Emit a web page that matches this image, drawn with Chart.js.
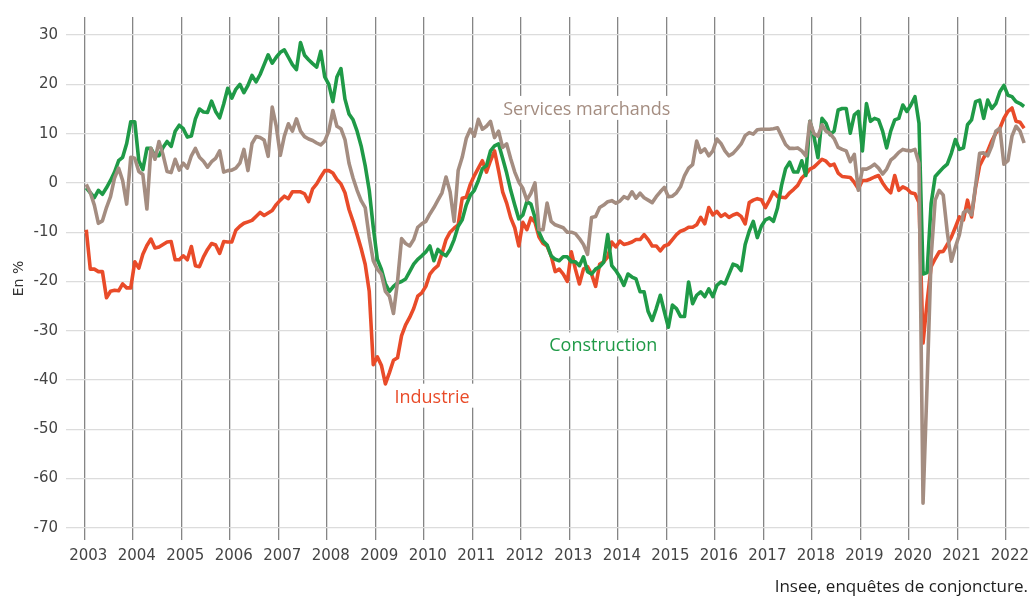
<!DOCTYPE html>
<html lang="fr">
<head>
<meta charset="utf-8">
<title>Soldes d'opinion - enquêtes de conjoncture</title>
<script src="https://cdn.jsdelivr.net/npm/chart.js@4.4.1/dist/chart.umd.min.js"></script>
<style>
  html, body { margin: 0; padding: 0; background: #fff; }
  #wrap { position: relative; width: 1032px; height: 600px; }
  #source {
    position: absolute; right: 4px; top: 576px;
    font: 17px "Open Sans", sans-serif; line-height: 20px; color: #1e1e1e;
  }
</style>
</head>
<body>
<div id="wrap">
  <canvas id="chart" width="1032" height="600"></canvas>
  <div id="source">Insee, enquêtes de conjoncture.</div>
</div>
<script>
// monthly values, January 2003 to May 2022 (one row per year)
const startYear = 2003;

const industrie = [
  -9.5, -17.5, -17.5, -18, -18, -23.3, -22, -21.8, -21.9, -20.5, -21.3, -21.3,
  -16, -17.3, -14.5, -12.7, -11.4, -13.2, -13, -12.5, -12, -11.9, -15.6, -15.6,
  -14.8, -15.6, -12.9, -16.8, -17, -15, -13.5, -12.3, -12.6, -14.3, -11.9, -12,
  -12, -9.6, -8.8, -8.2, -7.9, -7.6, -6.8, -6, -6.6, -6.1, -5.6, -4.4,
  -3.5, -2.7, -3.2, -1.8, -1.8, -1.8, -2.2, -3.8, -1.2, -0.2, 1.2, 2.5,
  2.5, 2, 0.7, -0.2, -2, -5.4, -7.8, -10.5, -13.3, -16.5, -22, -36.9,
  -35.3, -37, -40.8, -38.5, -36, -35.5, -31, -28.8, -27.3, -25.5, -23, -22.3,
  -21, -18.5, -17.5, -16.8, -14.3, -11.5, -10, -9.2, -8.5, -3.1, -2.9, -0.3,
  1.5, 3, 4.5, 2.2, 4.5, 6.5, 2.5, -1.8, -4.1, -7.1, -9.1, -12.8,
  -8, -9.5, -7.1, -8, -11, -12.3, -12.8, -14.8, -18, -17.5, -18.5, -20,
  -14, -17.5, -20.5, -17.5, -17, -18.5, -21, -16.5, -16, -15, -12, -13,
  -11.8, -12.5, -12.3, -12, -11.5, -11.5, -10.5, -11.5, -12.8, -12.8, -13.8, -12.8,
  -12.5, -11.5, -10.5, -9.8, -9.5, -9, -9, -8.5, -7, -8.3, -5, -6.5,
  -5.8, -6.8, -6.3, -7, -6.5, -6.2, -6.8, -8.3, -4, -3.5, -3.2, -3.4,
  -5, -3.5, -1.8, -2.8, -2.9, -3, -2, -1.3, -0.5, 1, 1.8, 2.8,
  3.2, 4, 4.8, 4.4, 3.5, 3.8, 2, 1.3, 1.2, 1.1, 0.1, -1.2,
  0.5, 0.5, 0.8, 1.2, 1.5, 0, -1.2, -2, 1.5, -1.5, -0.8, -1.2,
  -2, -2.2, -4, -32.5, -24.2, -17, -15.4, -14, -13.9, -12.5, -11, -9,
  -6.9, -7.5, -3.5, -6.9, -0.9, 3.5, 5.1, 6.5, 8.5, 10.1, 11.1, 13.1,
  14.5, 15.2, 12.5, 12.3, 11.1
];

const construction = [
  -1, -2, -3, -1.5, -2.3, -1, 0.5, 2.2, 4.5, 5.2, 8, 12.4,
  12.4, 4.5, 2.7, 7, 7, 5.5, 5.5, 7.2, 8.4, 7.4, 10.5, 11.7,
  11, 9.3, 9.5, 13, 15, 14.4, 14.3, 16.6, 14.5, 13.2, 16, 19.2,
  17.2, 19, 20, 18.3, 19.8, 21.8, 20.5, 22, 24, 26, 24.3, 25.5,
  26.5, 27, 25.5, 24, 23, 28.5, 25.9, 25, 24.2, 23.5, 26.7, 21.5,
  20, 16.5, 21.5, 23.2, 17, 14, 12.8, 10.5, 7.5, 3.5, -1.5, -9,
  -15.5, -17.5, -20.5, -22, -21, -20.3, -20, -19.5, -18, -16.5, -15.5, -14.8,
  -14, -12.8, -15.8, -13.5, -14.3, -14.8, -13.5, -11.5, -8.8, -7.5, -4.5, -2.5,
  -1.5, 0.5, 2.9, 3.5, 6.5, 7.5, 7.9, 5, 2, -1.5, -4.5, -7.3,
  -6.5, -3.8, -4.3, -7, -10, -11.8, -12.6, -14.8, -15.5, -15.8, -15, -15,
  -16, -16, -16.8, -15, -18, -18.5, -17.5, -17, -16.1, -10.5, -16.8, -17.8,
  -19.1, -20.8, -18.5, -19.1, -19.5, -22.1, -22.1, -26.1, -27.9, -25.5, -22.8, -26.1,
  -29.3, -24.8, -25.5, -27.1, -27.1, -20.1, -24.5, -22.8, -22.1, -23.1, -21.5, -23.1,
  -20.8, -20.1, -20.5, -18.5, -16.5, -16.8, -17.8, -12.5, -9.8, -7.8, -11.1, -8.8,
  -7.5, -7.1, -7.8, -5.1, -0.5, 2.9, 4.2, 2.2, 2.2, 4.5, 1.5, 12.5,
  9.5, 5.1, 13.1, 12.1, 9.8, 10.5, 14.8, 15.1, 15.1, 10.1, 13.8, 14.5,
  6.5, 16.1, 12.5, 13.1, 12.8, 10.5, 7.1, 10.5, 12.8, 13.1, 15.8, 14.5,
  15.8, 17.5, 12.1, -18.5, -18.2, -4.2, 1.3, 2.2, 3.1, 3.8, 6, 8.8,
  6.8, 7.1, 11.8, 12.8, 16.5, 16.8, 13.1, 16.8, 15.1, 16.1, 18.5, 19.8,
  17.8, 17.5, 16.5, 16.1, 15.5
];

const services = [
  -0.3, -2, -4.5, -8.2, -7.7, -5, -2.8, 1, 3, 0.5, -4.3, 5.2,
  5, 2.3, 1.7, -5.3, 7, 4.8, 8.4, 5.7, 2.3, 2.1, 4.8, 2.6,
  4, 3, 5.5, 7, 5.2, 4.4, 3.2, 4.3, 5, 6.5, 2.2, 2.5,
  2.6, 3, 4, 6.8, 2.5, 8, 9.4, 9.2, 8.7, 5.4, 15.4, 11.5,
  5.6, 9.5, 12, 10.5, 13, 10.5, 9.4, 8.9, 8.6, 8.1, 7.7, 8.5,
  10.5, 14.7, 11.5, 11, 8.8, 4, 1, -1.5, -3.6, -5, -11, -15.8,
  -17.5, -18.5, -22, -23, -26.5, -20, -11.3, -12.3, -12.8, -11.5, -9, -8.3,
  -7.8, -6.3, -5, -3.5, -2, 1.2, -1.8, -7.8, 2.5, 5.2, 9, 10.9,
  9.5, 12.9, 10.9, 11.5, 12.5, 9.2, 10.5, 7.2, 7.9, 4.9, 2.2, 0.2,
  -1.1, -3.5, -2.1, 0, -9.5, -9.5, -4.1, -7.8, -8.5, -8.8, -9.1, -10,
  -10, -10.3, -11.3, -12.5, -14.5, -7, -6.8, -5, -4.5, -3.8, -3.6, -4.1,
  -3.7, -2.8, -3.2, -1.8, -3.1, -2.1, -3, -3.5, -4, -2.8, -1.8, -0.9,
  -2.8, -2.7, -2, -0.8, 1.5, 3, 3.7, 8.5, 6.2, 6.9, 5.5, 6.5,
  8.9, 8, 6.5, 5.5, 6, 6.9, 7.9, 9.6, 10.2, 9.9, 10.8, 10.9,
  10.9, 10.9, 11, 11.2, 9.5, 7.8, 7, 7, 7.1, 6.5, 5.5, 12.5,
  10, 9.5, 11.8, 10.5, 10, 9, 7.2, 6.8, 6.5, 4.3, 5.8, -1.5,
  2.8, 2.8, 3.2, 3.8, 3, 1.8, 2.8, 4.6, 5.3, 6.2, 6.8, 6.6,
  6.5, 6.8, 4, -65, -41, -15, -3.5, -1.5, -2.5, -10, -15.9, -13,
  -10.5, -6, -5.5, -6.5, -0.5, 6, 6.1, 5.5, 7.5, 10.5, 11.1, 3.8,
  4.5, 9.5, 11.5, 10.5, 8.1
];

const yearTicks = [2003, 2004, 2005, 2006, 2007, 2008, 2009, 2010, 2011, 2012,
  2013, 2014, 2015, 2016, 2017, 2018, 2019, 2020, 2021, 2022];
const yTicks = [-70, -60, -50, -40, -30, -20, -10, 0, 10, 20, 30];

const colors = { industrie: '#e94b29', construction: '#1f9a47', services: '#a48d81' };

// series names written next to the curves (data coordinates of the baseline centre)
const seriesLabels = [
  { text: 'Services marchands', x: 2013.36, y: 13.8, color: colors.services },
  { text: 'Construction', x: 2013.7, y: -34.2, color: colors.construction },
  { text: 'Industrie', x: 2010.17, y: -44.6, color: colors.industrie }
];

// each value sits at the middle of its month
function toPoints(values) {
  return values.map((v, i) => ({ x: startYear + (i + 0.5) / 12, y: v }));
}

// labels sit on a white patch that hides the grid behind them
const seriesLabelPlugin = {
  id: 'seriesLabels',
  beforeDatasetsDraw(chart) {
    const ctx = chart.ctx;
    const xs = chart.scales.x, ys = chart.scales.y;
    ctx.save();
    ctx.font = '500 18px "Open Sans", sans-serif';
    ctx.textAlign = 'center';
    ctx.textBaseline = 'alphabetic';
    seriesLabels.forEach(l => {
      const px = xs.getPixelForValue(l.x);
      const py = ys.getPixelForValue(l.y);
      const w = ctx.measureText(l.text).width;
      ctx.fillStyle = '#fff';
      ctx.fillRect(px - w / 2 - 5, py - 19, w + 10, 24);
      ctx.fillStyle = l.color;
      ctx.fillText(l.text, px, py);
    });
    ctx.restore();
  }
};

const tickFont = { family: 'DejaVu Sans', size: 15 };

function line(values, color) {
  return {
    data: toPoints(values),
    borderColor: color,
    borderWidth: 3.6,
    pointRadius: 0,
    tension: 0,
    borderJoinStyle: 'round',
    fill: false
  };
}

new Chart(document.getElementById('chart'), {
  type: 'line',
  data: {
    datasets: [
      line(services, colors.services),
      line(construction, colors.construction),
      line(industrie, colors.industrie)
    ]
  },
  plugins: [seriesLabelPlugin],
  options: {
    responsive: false,
    animation: false,
    devicePixelRatio: 1,
    layout: { padding: { top: 11, right: 0, bottom: 0, left: 0 } },
    plugins: { legend: { display: false }, tooltip: { enabled: false } },
    scales: {
      x: {
        type: 'linear',
        min: 2002.624,
        max: 2022.483,
        afterBuildTicks: s => { s.ticks = yearTicks.map(v => ({ value: v })); },
        afterFit: s => { s.height = 60; },
        ticks: {
          callback: v => String(v),
          font: tickFont,
          color: '#444',
          padding: 7,
          labelOffset: 4,
          maxRotation: 0,
          autoSkip: false
        },
        grid: { color: '#858585', lineWidth: 1.3, drawTicks: false },
        border: { display: false }
      },
      y: {
        min: -72.47,
        max: 33.67,
        afterBuildTicks: s => { s.ticks = yTicks.map(v => ({ value: v })); },
        afterFit: s => { s.width = 66; },
        ticks: { font: tickFont, color: '#444', padding: 8 },
        grid: { color: '#dcdcdc', lineWidth: 1.3, drawTicks: false },
        border: { display: false },
        title: {
          display: true,
          text: 'En %',
          font: { family: 'DejaVu Sans', size: 14 },
          color: '#333',
          padding: { top: 10.6, bottom: 0 }
        }
      }
    }
  }
});
</script>
</body>
</html>
